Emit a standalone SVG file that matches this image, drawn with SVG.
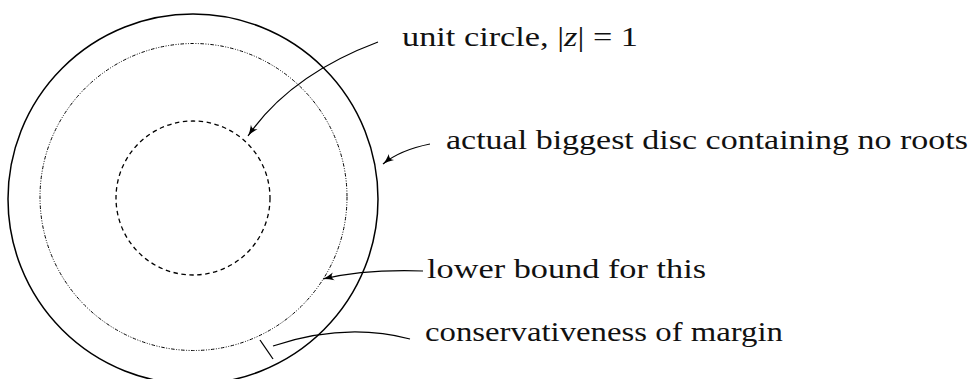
<svg xmlns="http://www.w3.org/2000/svg" width="973" height="379" viewBox="0 0 973 379">
<style>
.c{fill:none;stroke:#000}
.lbl{font-family:"Liberation Serif","Times New Roman",serif;font-size:27px;fill:#111}
.con{fill:none;stroke:#000;stroke-width:1.2}
</style>
<defs>
<marker id="ah" markerWidth="14" markerHeight="10" refX="0" refY="0" viewBox="-12 -5 14 10" orient="auto" markerUnits="userSpaceOnUse">
<path d="M-11,-4 Q-5,-1 0,0 Q-5,1 -11,4 Q-7,0 -11,-4 Z" fill="#000"/>
</marker>
</defs>
<rect width="973" height="379" fill="#fff"/>
<g id="outer-disc"><circle class="c" cx="193" cy="199" r="185" stroke-width="1.5"/></g>
<g id="lower-bound-circle"><circle class="c" cx="193.5" cy="197" r="153.5" stroke-width="1" stroke-dasharray="3.5 1.5 1 1.5 1 1.5"/></g>
<g id="unit-circle"><circle class="c" cx="193" cy="198" r="77" stroke-width="1.3" stroke-dasharray="4.5 3.5"/></g>
<g id="margin-tick"><line x1="260" y1="340" x2="273" y2="359" stroke="#000" stroke-width="1.3"/></g>
<g id="connectors">
<path class="con" d="M378,42 Q290,75 248,136" marker-end="url(#ah)"/>
<path class="con" d="M430,144 Q400,150 383,164" marker-end="url(#ah)"/>
<path class="con" d="M423,271 Q365,269 323,279" marker-end="url(#ah)"/>
<path class="con" d="M273,346 Q345,322 410,339"/>
</g>
<g id="label-unit"><text class="lbl" x="402" y="46" textLength="236" lengthAdjust="spacingAndGlyphs">unit circle, |<tspan font-style="italic">z</tspan>| = 1</text></g>
<g id="label-actual"><text class="lbl" x="446" y="149" textLength="522" lengthAdjust="spacingAndGlyphs">actual biggest disc containing no roots</text></g>
<g id="label-lower"><text class="lbl" x="427" y="278" textLength="279" lengthAdjust="spacingAndGlyphs">lower bound for this</text></g>
<g id="label-cons"><text class="lbl" x="425" y="341" textLength="358" lengthAdjust="spacingAndGlyphs">conservativeness of margin</text></g>
</svg>
